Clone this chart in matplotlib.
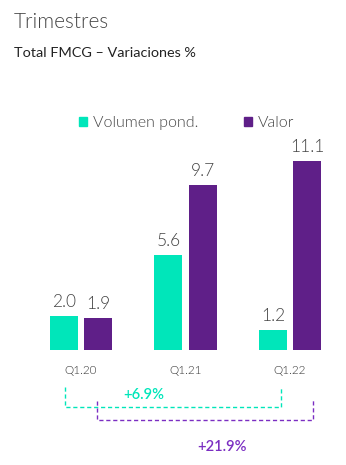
import matplotlib
matplotlib.use('Agg')
import matplotlib.pyplot as plt
from matplotlib.patches import Patch
import numpy as np

quarters = ['Q1.20', 'Q1.21', 'Q1.22']
volumen = [2.0, 5.6, 1.2]
valor = [1.9, 9.7, 11.1]
series_names = ['Volumen pond.', 'Valor']
diff_volumen = '+6.9%'
diff_valor = '+21.9%'

TEAL = '#00E6BA'
PURPLE = '#5F1F88'
PURPLE_TXT = '#7B2EC2'
GREY = '#444444'

plt.rcParams['font.family'] = ['Lato', 'DejaVu Sans']

W, H = 346, 465
fig = plt.figure(figsize=(W / 100, H / 100), dpi=100)
ax = fig.add_axes([28.75 / W, 115 / H, 313.5 / W, 210 / H])

x = np.arange(len(quarters))
bw = 0.268
off = 0.163
b1 = ax.bar(x - off, volumen, bw, color=TEAL)
b2 = ax.bar(x + off, valor, bw, color=PURPLE)

for bars, vals in ((b1, volumen), (b2, valor)):
    for b, v in zip(bars, vals):
        ax.annotate(f'{v:.1f}', (b.get_x() + b.get_width() / 2, v),
                    xytext=(0, 6.5), textcoords='offset points',
                    ha='center', va='baseline', fontsize=12.5,
                    fontweight=300, color=GREY)

ax.set_xlim(-0.5, 2.5)
ax.set_ylim(0, 12.35)
ax.set_xticks(x)
ax.set_xticklabels(quarters, fontsize=8.5, fontweight=300, color='#333333')
ax.tick_params(axis='x', length=0, pad=11)
ax.set_yticks([])
for s in ax.spines.values():
    s.set_visible(False)

# brackets below the axis
ax.plot([-0.153, -0.153, 1.914, 1.914], [-2.18, -3.35, -3.35, -2.18],
        color=TEAL, lw=1, ls=(0, (3, 2)), clip_on=False)
ax.text(0.6, -2.65, diff_volumen, color=TEAL, fontsize=10.5,
        fontweight='semibold', ha='center', va='center', clip_on=False)
ax.plot([0.153, 0.153, 2.22, 2.22], [-3.0, -4.12, -4.12, -2.88],
        color=PURPLE_TXT, lw=1, ls=(0, (3, 2)), clip_on=False)
ax.text(1.35, -5.7, diff_valor, color=PURPLE_TXT, fontsize=10.5,
        fontweight='semibold', ha='center', va='center', clip_on=False)

fig.text(14 / W, 1 - 28 / H, 'Trimestres', fontsize=15, fontweight=300,
         color=GREY, va='baseline')
fig.text(14 / W, 1 - 57 / H, 'Total FMCG – Variaciones %', fontsize=10.4,
         color='#222222', va='baseline')

handles = [Patch(color=TEAL), Patch(color=PURPLE)]
fig.legend(handles, series_names, loc='center left',
           bbox_to_anchor=(79 / W, 1 - 123 / H), ncol=2, frameon=False,
           handlelength=0.5, handleheight=0.5,
           handletextpad=0.35, columnspacing=2.9, borderpad=0,
           borderaxespad=0, prop={'size': 11.5, 'weight': 300})
for t in fig.legends[0].get_texts():
    t.set_color(GREY)

fig.savefig('out.png', dpi=100)
